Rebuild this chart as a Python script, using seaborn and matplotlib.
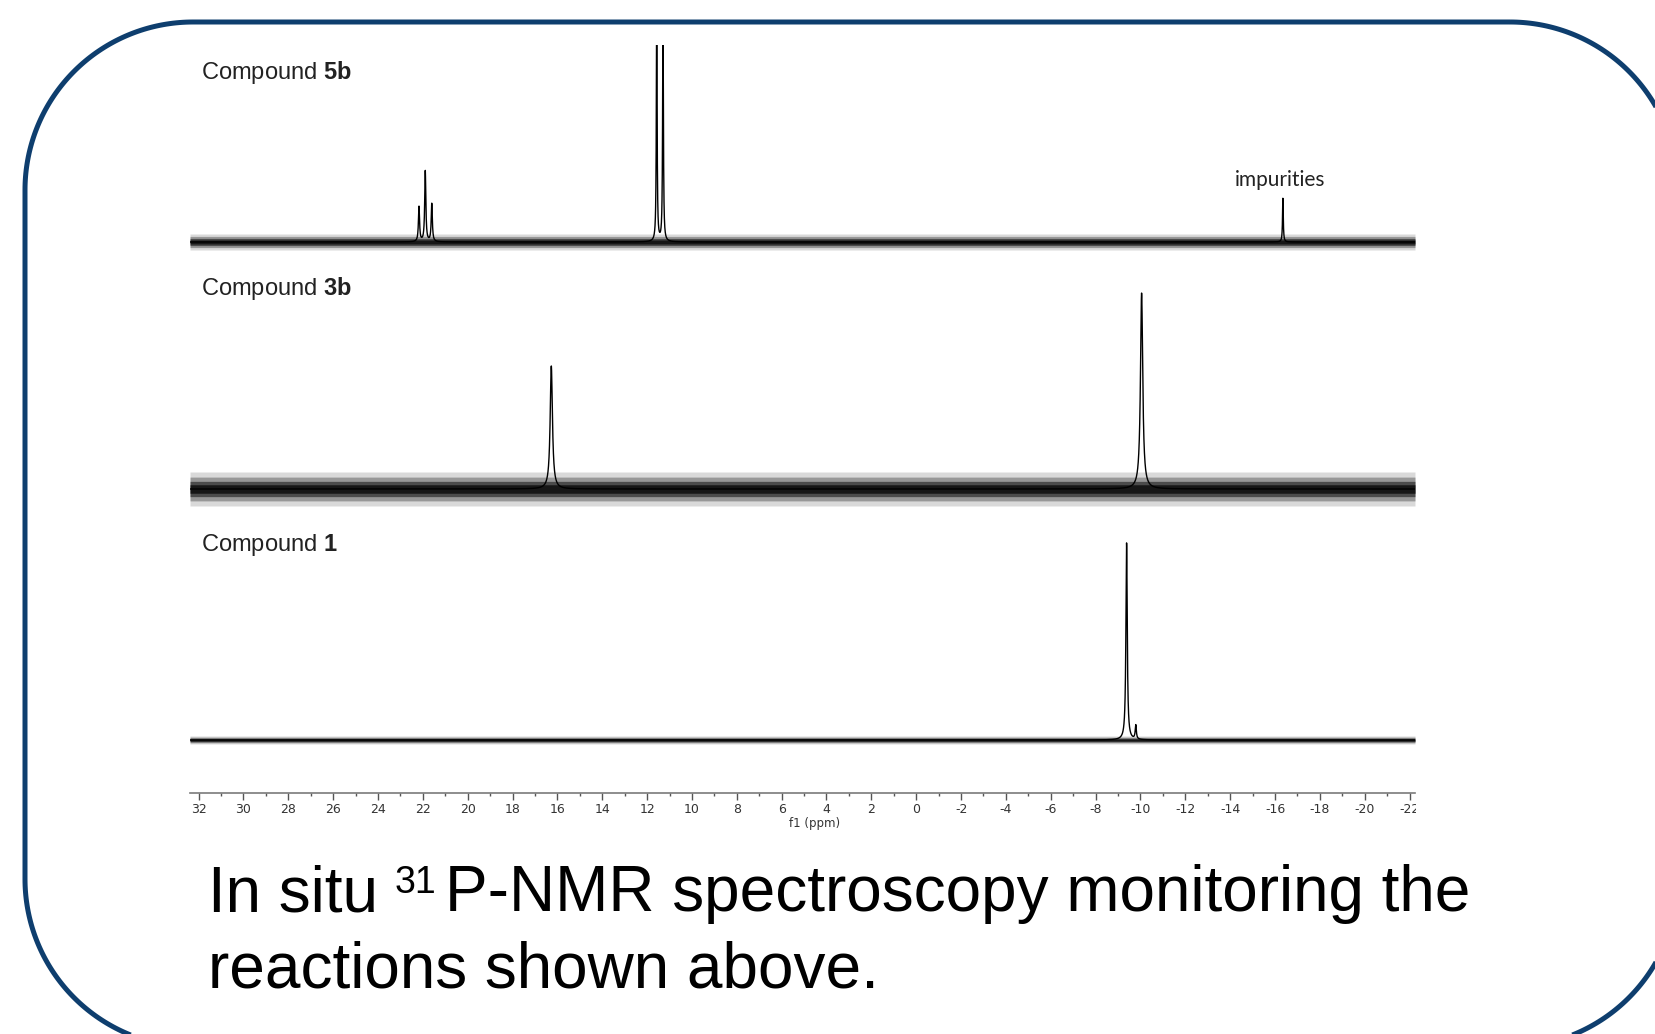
import numpy as np
import pandas as pd
import matplotlib
matplotlib.use("Agg")
import matplotlib.pyplot as plt
import seaborn as sns
from matplotlib.patches import Polygon
from matplotlib.ticker import MultipleLocator
from matplotlib.transforms import Bbox, TransformedBbox

# peak lists: shift (ppm), height, half width (ppm)
compounds = ["5b", "3b", "1"]
shifts_5b = [22.17, 21.89, 21.60, 11.57, 11.29, -16.35]
heights_5b = [35, 71, 38, 240, 240, 44]
widths_5b = [0.03, 0.03, 0.03, 0.02, 0.02, 0.02]
shifts_3b = [16.27, -10.05]
heights_3b = [123, 196]
widths_3b = [0.06, 0.06]
shifts_1 = [-9.38, -9.79]
heights_1 = [197, 14]
widths_1 = [0.035, 0.03]
noise_amp = [8, 17, 4]  # half thickness of the noisy baseline
x_ticks = list(range(32, -23, -2))

sns.set_theme(style="white")
plt.rcParams["font.family"] = ["Liberation Sans", "DejaVu Sans"]
plt.rcParams["mathtext.fontset"] = "custom"
plt.rcParams["mathtext.rm"] = "Liberation Sans"
plt.rcParams["mathtext.bf"] = "Liberation Sans:bold"
plt.rcParams["axes.unicode_minus"] = False

W, H = 1656, 1034
fig = plt.figure(figsize=(W / 100, H / 100), dpi=100)

# rounded frame, drawn as a polygon in pixel space (extends past the canvas)
bg = fig.add_axes([0, 0, 1, 1])
bg.set_xlim(0, W)
bg.set_ylim(H, 0)
bg.axis("off")


def rounded_rect(x0, y0, x1, y1, r, n=80):
    pts = []
    corners = [(x1 - r, y0 + r, -90, 0), (x1 - r, y1 - r, 0, 90),
               (x0 + r, y1 - r, 90, 180), (x0 + r, y0 + r, 180, 270)]
    for cx, cy, a0, a1 in corners:
        t = np.radians(np.linspace(a0, a1, n))
        pts.append(np.column_stack([cx + r * np.cos(t), cy + r * np.sin(t)]))
    return np.vstack(pts)


bg.add_patch(Polygon(rounded_rect(25, 22, 1678, 1047, 168), closed=True,
                     fill=False, ec="#0e3e6e", lw=3.6, clip_on=False))

ax = fig.add_axes([190 / W, 1 - 793 / H, (1415 - 190) / W, (793 - 45) / H])
ax.patch.set_alpha(0)

ppm = np.linspace(32.38, -22.24, 14000)
baselines = [551, 304, 53]
peak_sets = [(shifts_5b, heights_5b, widths_5b),
             (shifts_3b, heights_3b, widths_3b),
             (shifts_1, heights_1, widths_1)]

frames = []
for name, base, (sh, hts, wd) in zip(compounds, baselines, peak_sets):
    y = np.full_like(ppm, float(base))
    for s, h, w in zip(sh, hts, wd):
        y += h * w ** 2 / ((ppm - s) ** 2 + w ** 2)
    frames.append(pd.DataFrame({"ppm": ppm, "intensity": y, "compound": name}))
spec = pd.concat(frames)

# noise drawn as a density band around each baseline
for base, amp in zip(baselines, noise_amp):
    for frac, alpha in [(1.0, 0.15), (0.7, 0.3), (0.45, 0.5), (0.25, 0.7)]:
        ax.fill_between(ppm, base - amp * frac, base + amp * frac,
                        color="black", alpha=alpha, lw=0)

sns.lineplot(data=spec, x="ppm", y="intensity", units="compound",
             estimator=None, color="black", lw=1.0, ax=ax, sort=False)

ax.set_xlim(32.38, -22.24)
ax.set_ylim(0, 748)
for side in ["top", "left", "right"]:
    ax.spines[side].set_visible(False)
ax.spines["bottom"].set_color("#7a7a7a")
ax.spines["bottom"].set_linewidth(1.2)
ax.set_yticks([])
ax.set_ylabel("")
ax.set_xticks(x_ticks)
ax.set_xticklabels([str(t) for t in x_ticks])
ax.xaxis.set_minor_locator(MultipleLocator(1))
ax.tick_params(axis="x", which="major", direction="out", length=5, width=1,
               color="#555555", labelsize=9, labelcolor="#333333", pad=2,
               bottom=True)
ax.tick_params(axis="x", which="minor", direction="out", length=2.5, width=1,
               color="#555555", bottom=True)
ax.set_xlabel("f1 (ppm)", fontsize=8.5, color="#333333", family="DejaVu Sans",
              labelpad=0)
ax.xaxis.set_label_coords(0.51, -0.032)

txt = "#222222"
fig.text(201 / W, 1 - 72 / H, r"Compound $\mathbf{5b}$", fontsize=17,
         color=txt, va="center")
fig.text(201 / W, 1 - 288 / H, r"Compound $\mathbf{3b}$", fontsize=17,
         color=txt, va="center")
fig.text(201 / W, 1 - 545 / H, r"Compound $\mathbf{1}$", fontsize=17,
         color=txt, va="center")
fig.text(1280 / W, 1 - 180 / H, "impurities", fontsize=15, color=txt,
         ha="center", va="center", family="Lato")

# caption, with a hand-set superscript
yb = 1 - 911 / H
t1 = fig.text(208 / W, yb, "In situ", fontsize=46, color="black",
              va="baseline")
t2 = ax.annotate("31", xy=(1, yb), xycoords=(t1, "figure fraction"),
                 xytext=(12, 13), textcoords="offset points", fontsize=27,
                 color="black", va="baseline", annotation_clip=False)
ax.annotate("P-NMR spectroscopy monitoring the", xy=(1, yb),
            xycoords=(t2, "figure fraction"), xytext=(6, 0),
            textcoords="offset points", fontsize=46, color="black",
            va="baseline", annotation_clip=False)
fig.text(208 / W, 1 - 987 / H, "reactions shown above.", fontsize=46,
         color="black", va="baseline")

# the source image is cropped just right of the last tick
fig.canvas.draw()
crop = TransformedBbox(Bbox([[0, 0], [1416 / W, 1]]), fig.transFigure)
for lab in ax.get_xticklabels():
    lab.set_family("DejaVu Sans")
    lab.set_clip_box(crop)
    lab.set_clip_on(True)

fig.savefig("out.png", dpi=100, facecolor="white")
